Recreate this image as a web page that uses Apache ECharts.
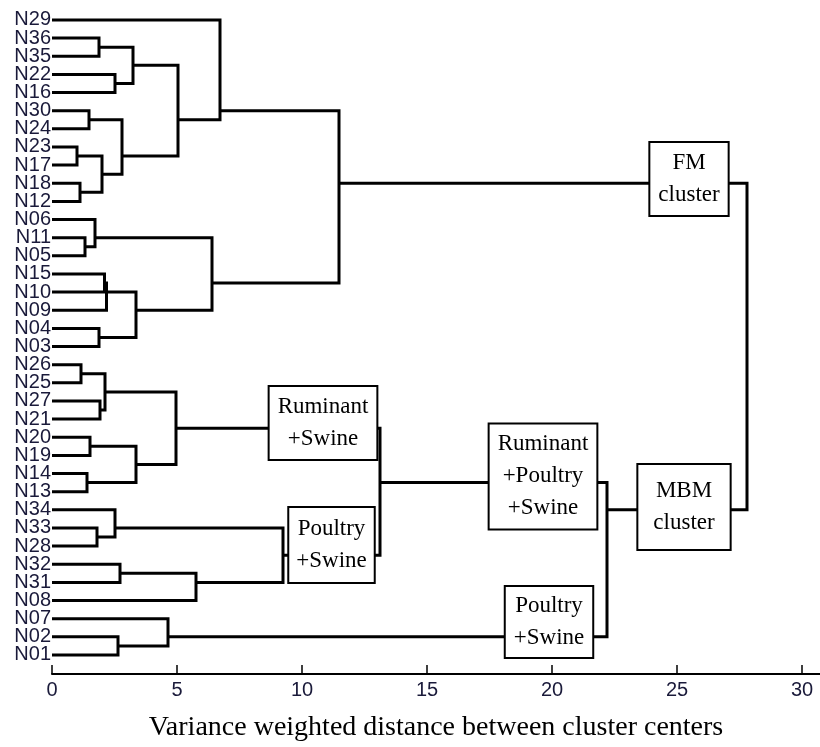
<!DOCTYPE html>
<html><head><meta charset="utf-8">
<script src="https://cdn.jsdelivr.net/npm/echarts@6/dist/echarts.min.js"></script>
<style>html,body{margin:0;padding:0;background:#fff}#c{width:820px;height:747px}</style>
</head><body><div id="c"></div>
<script>
// Leaf order, top to bottom
const leafOrder = ['N29','N36','N35','N22','N16','N30','N24','N23','N17','N18','N12',
  'N06','N11','N05','N15','N10','N09','N04','N03',
  'N26','N25','N27','N21','N20','N19','N14','N13',
  'N34','N33','N28','N32','N31','N08','N07','N02','N01'];
// Merges in order: [child A, child B, distance]; cluster k is named 'C' + k (1-based)
const merges = [
  ['N36','N35',1.88], ['N22','N16',2.52], ['C1','C2',3.24],
  ['N30','N24',1.48], ['N23','N17',1.0], ['N18','N12',1.12],
  ['C5','C6',2.0], ['C4','C7',2.8], ['C3','C8',5.04], ['N29','C9',6.72],
  ['N11','N05',1.32], ['N06','C11',1.72],
  ['N15','N10',2.10], ['C13','N09',2.18], ['N04','N03',1.88],
  ['C14','C15',3.36], ['C12','C16',6.4], ['C10','C17',11.48],
  ['N26','N25',1.16], ['N27','N21',1.92], ['C19','C20',2.12],
  ['N20','N19',1.52], ['N14','N13',1.4], ['C22','C23',3.36], ['C21','C24',4.96],
  ['N33','N28',1.8], ['N34','C26',2.52], ['N32','N31',2.72], ['C28','N08',5.76],
  ['C27','C29',9.24], ['C25','C30',13.12],
  ['N02','N01',2.64], ['N07','C32',4.64],
  ['C31','C33',22.2], ['C18','C34',27.8]
];
const xTicks = [0,5,10,15,20,25,30];
const xTitle = 'Variance weighted distance between cluster centers';
// Annotation boxes: text, distance value, leaf-position value
const annoText = ['FM\ncluster','MBM\ncluster','Ruminant\n+Poultry\n+Swine','Poultry\n+Swine','Ruminant\n+Swine','Poultry\n+Swine'];
const annoX = [25.48, 25.28, 19.64, 19.88, 10.84, 11.18];
const annoY = [9.76, 27.84, 26.16, 34.18, 23.21, 29.94];

// ---- build the tree geometry (in data units) ----
const nodes = {};
leafOrder.forEach((n,i)=>{ nodes[n] = {h:0, leaves:[i+1]}; });
const links = [];
merges.forEach((m,k)=>{
  const a = nodes[m[0]], b = nodes[m[1]];
  const leaves = a.leaves.concat(b.leaves);
  const ya = a.leaves.reduce((s,v)=>s+v,0)/a.leaves.length;
  const yb = b.leaves.reduce((s,v)=>s+v,0)/b.leaves.length;
  links.push([a.h, ya, m[2], yb, b.h]);
  nodes['C'+(k+1)] = {h:m[2], leaves:leaves};
});

const boxPad = [[4,8],[10,15],[4,8],[3,8],[4,8],[5,7]];
// leaf positions plus two empty guard positions (hidden as min/max labels)
const yLabelValues = [0].concat(leafOrder.map((_,i)=>i+1), [leafOrder.length+1]);

const chart = echarts.init(document.getElementById('c'));
chart.setOption({
  animation:false,
  backgroundColor:'#fff',
  grid:{left:52, right:0, top:0, bottom:73},
  xAxis:{
    type:'value', min:0, max:30.72, position:'bottom',
    axisLine:{onZero:false, lineStyle:{color:'#000', width:2}},
    axisTick:{inside:true, length:9, lineStyle:{color:'#000', width:1.5}, customValues:xTicks},
    axisLabel:{customValues:xTicks, color:'#1a1a3a', fontFamily:'Liberation Sans', fontSize:20, margin:6},
    splitLine:{show:false},
    name:xTitle, nameLocation:'middle', nameGap:40,
    nameTextStyle:{fontFamily:'Liberation Serif', fontSize:28, color:'#000'}
  },
  yAxis:{
    type:'value', inverse:true, min:-0.1, max:37.05,
    axisLine:{show:false}, axisTick:{show:false}, splitLine:{show:false},
    axisLabel:{customValues:yLabelValues, formatter:v=>leafOrder[Math.round(v)-1]||'',
      showMinLabel:false, showMaxLabel:false, hideOverlap:false,
      color:'#1a1a3a', fontFamily:'Liberation Sans', fontSize:20, margin:1}
  },
  series:[{
    type:'custom',
    encode:{x:[0,2,4], y:[1,3]},
    data:links,
    renderItem:function(params, api){
      const p1 = api.coord([api.value(0), api.value(1)]);
      const p2 = api.coord([api.value(2), api.value(1)]);
      const p3 = api.coord([api.value(2), api.value(3)]);
      const p4 = api.coord([api.value(4), api.value(3)]);
      return {type:'polyline', shape:{points:[p1,p2,p3,p4]},
        style:{stroke:'#000', lineWidth:3, fill:null, lineJoin:'miter'}};
    },
    z:2
  },{
    type:'scatter',
    symbolSize:0,
    z:5,
    itemStyle:{opacity:1},
    emphasis:{disabled:true},
    data:annoText.map((t,i)=>({value:[annoX[i], annoY[i]], name:t,
      label:{padding:boxPad[i]}})),
    label:{show:true, position:'inside', formatter:p=>p.name, opacity:1,
      fontFamily:'Liberation Serif', fontSize:23, lineHeight:32, color:'#000',
      backgroundColor:'#fff', borderColor:'#000', borderWidth:2, align:'center', verticalAlign:'middle'}
  }]
});
</script></body></html>
